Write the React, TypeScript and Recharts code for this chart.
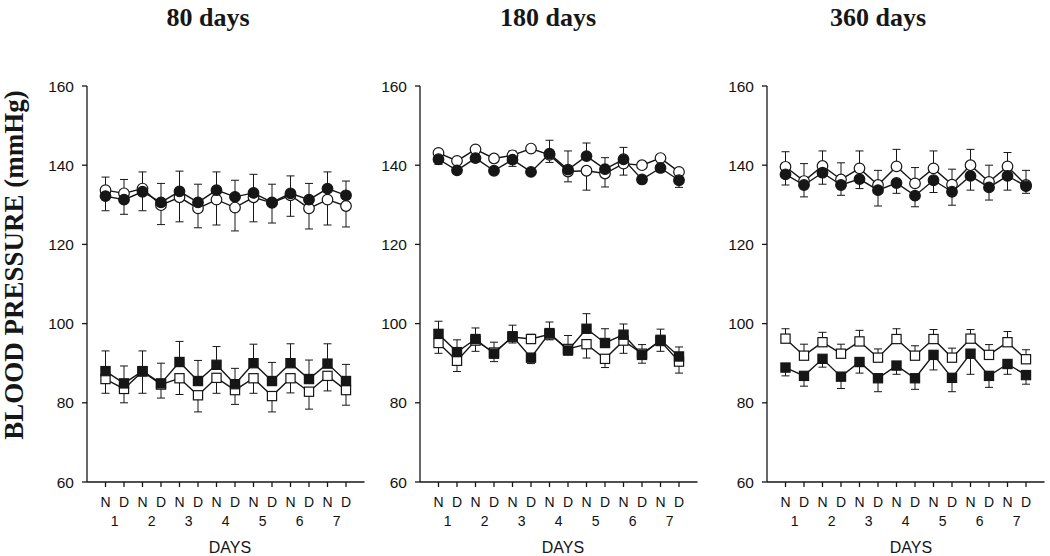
import { LineChart, Line, XAxis, YAxis, ErrorBar } from 'recharts';

const periods = ['80 days', '180 days', '360 days'];
const phases = ['N', 'D', 'N', 'D', 'N', 'D', 'N', 'D', 'N', 'D', 'N', 'D', 'N', 'D'];
const dayNumbers = ['1', '2', '3', '4', '5', '6', '7'];
const yTicks = [60, 80, 100, 120, 140, 160];

// 80 days
const d80ClosedCircle = [132.2, 131.3, 133.3, 130.6, 133.4, 130.6, 133.7, 132.0, 133.0, 130.6, 132.9, 131.3, 134.1, 132.4];
const d80ClosedCircleSd = [3.7, 3.7, 4.8, 4.8, 5.1, 4.6, 4.6, 4.2, 4.7, 4.6, 4.4, 4.1, 4.2, 3.6];
const d80OpenCircle = [133.7, 132.9, 134.1, 129.9, 131.9, 129.1, 131.3, 129.3, 131.9, 130.5, 132.4, 129.1, 131.3, 129.7];
const d80OpenCircleSd = [3.3, 3.5, 4.2, 4.9, 6.2, 4.9, 6.4, 5.9, 6.2, 5.1, 5.3, 5.2, 6.4, 5.3];
const d80ClosedSquare = [88.0, 84.9, 88.0, 84.9, 90.3, 85.5, 89.6, 84.7, 90.0, 85.5, 90.0, 86.0, 89.9, 85.5];
const d80ClosedSquareSd = [5.1, 4.4, 5.1, 5.1, 5.2, 5.2, 4.6, 4.0, 4.8, 4.7, 4.9, 4.8, 5.0, 4.2];
const d80OpenSquare = [86.0, 83.5, 87.9, 84.6, 86.2, 81.9, 86.3, 83.2, 86.2, 81.7, 86.2, 82.8, 86.8, 83.2];
const d80OpenSquareSd = [3.6, 3.5, 5.5, 3.4, 4.1, 4.2, 3.9, 3.6, 3.8, 4.0, 3.7, 4.4, 3.8, 3.8];

// 180 days
const d180ClosedCircle = [141.5, 138.7, 141.8, 138.6, 141.4, 138.3, 142.9, 138.9, 142.3, 139.0, 141.5, 136.4, 139.3, 136.2];
const d180ClosedCircleSd = [1.3, 0.8, 1.0, 0.8, 1.7, 0.8, 3.4, 4.7, 3.3, 2.9, 3.0, 0.8, 1.0, 1.8];
const d180OpenCircle = [143.1, 141.1, 144.0, 141.7, 142.5, 144.2, 142.6, 138.4, 138.6, 137.9, 140.4, 140.0, 141.8, 138.3];
const d180OpenCircleSd = [0.5, 0.6, 0.5, 0.5, 1.1, 0.6, 1.9, 2.6, 4.9, 3.4, 2.9, 0.8, 0.7, 0.5];
const d180ClosedSquare = [97.4, 92.8, 96.1, 92.4, 96.8, 91.4, 97.6, 93.2, 98.7, 95.1, 97.2, 92.1, 95.9, 91.7];
const d180ClosedSquareSd = [3.2, 3.1, 2.8, 2.0, 2.8, 1.5, 2.8, 1.1, 3.8, 3.6, 2.7, 2.1, 2.7, 2.4];
const d180OpenSquare = [95.1, 90.6, 95.7, 92.7, 96.6, 96.1, 97.3, 93.6, 94.8, 91.1, 95.7, 92.4, 95.6, 90.4];
const d180OpenSquareSd = [2.6, 2.7, 2.7, 2.6, 1.5, 1.2, 1.4, 3.4, 3.5, 2.2, 3.2, 2.3, 2.6, 2.9];

// 360 days
const d360ClosedCircle = [137.7, 135.0, 138.1, 135.0, 136.5, 133.7, 135.5, 132.3, 136.2, 133.3, 137.3, 134.4, 137.3, 134.7];
const d360ClosedCircleSd = [2.7, 3.0, 2.9, 2.6, 2.4, 4.0, 2.6, 2.8, 3.1, 3.4, 3.6, 3.2, 3.6, 1.8];
const d360OpenCircle = [139.6, 136.0, 139.8, 136.4, 139.2, 135.0, 139.7, 135.4, 139.2, 135.1, 140.0, 135.8, 139.7, 135.0];
const d360OpenCircleSd = [3.8, 4.4, 3.8, 4.2, 4.4, 3.7, 4.3, 4.0, 4.4, 3.9, 4.0, 4.2, 3.5, 3.7];
const d360ClosedSquare = [88.9, 86.8, 91.1, 86.6, 90.3, 86.2, 89.4, 86.2, 92.1, 86.3, 92.4, 86.8, 89.8, 87.0];
const d360ClosedSquareSd = [2.1, 2.6, 2.1, 3.0, 2.8, 3.4, 2.2, 2.8, 3.8, 3.5, 5.2, 2.9, 2.6, 2.3];
const d360OpenSquare = [96.2, 91.9, 95.3, 92.4, 95.5, 91.4, 96.1, 91.9, 96.1, 91.4, 96.2, 92.1, 95.3, 91.0];
const d360OpenSquareSd = [2.5, 2.9, 2.5, 2.4, 2.8, 2.2, 2.6, 2.5, 2.4, 2.4, 2.3, 2.6, 2.7, 2.4];

const INK = '#161616';
const SANS = '"Liberation Sans", Arial, sans-serif';
const SERIF = '"Liberation Serif", "Times New Roman", serif';

// error bar only drawn on the outer side of each pair
const errTuple = (sd: number, up: boolean) => (up ? [0, sd] : [sd, 0]);

type PanelData = {
  cc: number[]; ccSd: number[]; oc: number[]; ocSd: number[];
  cs: number[]; csSd: number[]; os: number[]; osSd: number[];
};

const buildRows = (p: PanelData) =>
  phases.map((ph, i) => ({
    x: i + 1,
    cc: p.cc[i],
    oc: p.oc[i],
    cs: p.cs[i],
    os: p.os[i],
    ccErr: errTuple(p.ccSd[i], p.cc[i] >= p.oc[i]),
    ocErr: errTuple(p.ocSd[i], p.oc[i] > p.cc[i]),
    csErr: errTuple(p.csSd[i], p.cs[i] >= p.os[i]),
    osErr: errTuple(p.osSd[i], p.os[i] > p.cs[i]),
  }));

const panels = [
  {
    title: periods[0], left: 37, titleX: 208, daysX: 230,
    data: { cc: d80ClosedCircle, ccSd: d80ClosedCircleSd, oc: d80OpenCircle, ocSd: d80OpenCircleSd,
      cs: d80ClosedSquare, csSd: d80ClosedSquareSd, os: d80OpenSquare, osSd: d80OpenSquareSd },
  },
  {
    title: periods[1], left: 369.5, titleX: 548, daysX: 563,
    data: { cc: d180ClosedCircle, ccSd: d180ClosedCircleSd, oc: d180OpenCircle, ocSd: d180OpenCircleSd,
      cs: d180ClosedSquare, csSd: d180ClosedSquareSd, os: d180OpenSquare, osSd: d180OpenSquareSd },
  },
  {
    title: periods[2], left: 717, titleX: 878, daysX: 911,
    data: { cc: d360ClosedCircle, ccSd: d360ClosedCircleSd, oc: d360OpenCircle, ocSd: d360OpenCircleSd,
      cs: d360ClosedSquare, csSd: d360ClosedSquareSd, os: d360OpenSquare, osSd: d360OpenSquareSd },
  },
];

const phaseTicks = phases.map((_, i) => i + 1);
const dayTicks = dayNumbers.map((_, i) => 2 * i + 1.5);

const circleDot = (fill: string) => (props: any) => (
  <circle key={`c${fill}${props.index}`} cx={props.cx} cy={props.cy} r={5.3} fill={fill} stroke={INK} strokeWidth={1.2} />
);

const squareDot = (fill: string) => (props: any) => (
  <rect key={`s${fill}${props.index}`} x={props.cx - 4.6} y={props.cy - 4.6} width={9.2} height={9.2} fill={fill} stroke={INK} strokeWidth={1.2} />
);

function Panel({ data }: { data: PanelData }) {
  const rows = buildRows(data);
  const series = [
    { key: 'oc', err: 'ocErr', dot: circleDot('#fff') },
    { key: 'cc', err: 'ccErr', dot: circleDot(INK) },
    { key: 'os', err: 'osErr', dot: squareDot('#fff') },
    { key: 'cs', err: 'csErr', dot: squareDot(INK) },
  ];
  return (
    <LineChart width={330} height={464} data={rows} margin={{ top: 16, right: 2.5, bottom: 0, left: 0 }}>
      <XAxis
        dataKey="x"
        type="number"
        domain={[0, 15]}
        ticks={phaseTicks}
        interval={0}
        tickFormatter={(v: number) => phases[v - 1]}
        tickSize={5}
        tickMargin={10}
        height={28}
        stroke={INK}
        strokeWidth={1.3}
        tick={{ fill: '#111', stroke: 'none', fontSize: 14, fontFamily: SANS }}
      />
      <XAxis
        xAxisId="day"
        dataKey="x"
        type="number"
        domain={[0, 15]}
        ticks={dayTicks}
        interval={0}
        tickFormatter={(v: number) => dayNumbers[Math.floor(v / 2)]}
        axisLine={false}
        tickLine={false}
        tickSize={0}
        tickMargin={6}
        height={24}
        tick={{ fill: '#111', stroke: 'none', fontSize: 14, fontFamily: SANS }}
      />
      <YAxis
        type="number"
        domain={[60, 160]}
        ticks={yTicks}
        interval={0}
        width={50}
        tickSize={5}
        tickMargin={8}
        stroke={INK}
        strokeWidth={1.3}
        tick={{ fill: '#111', stroke: 'none', fontSize: 15.5, fontFamily: SANS }}
      />
      {series.map((s) => (
        <Line
          key={s.key}
          dataKey={s.key}
          type="linear"
          stroke={INK}
          strokeWidth={1.4}
          dot={s.dot}
          activeDot={false}
          isAnimationActive={false}
        >
          <ErrorBar dataKey={s.err} direction="y" width={4} stroke={INK} strokeWidth={1} isAnimationActive={false} />
        </Line>
      ))}
    </LineChart>
  );
}

export default function App() {
  return (
    <div style={{ position: 'absolute', left: 0, top: 0, width: 1050, height: 556, background: '#fff', overflow: 'hidden' }}>
      <div
        style={{
          position: 'absolute', left: 14, top: 265, transform: 'translate(-50%, -50%) rotate(-90deg)',
          fontFamily: SERIF, fontWeight: 'bold', fontSize: 27, whiteSpace: 'nowrap', color: INK, lineHeight: 1,
        }}
      >
        BLOOD PRESSURE (mmHg)
      </div>
      {panels.map((p) => (
        <div key={p.title}>
          <div
            style={{
              position: 'absolute', left: p.titleX, top: 18, transform: 'translate(-50%, -50%)',
              fontFamily: SERIF, fontWeight: 'bold', fontSize: 26, whiteSpace: 'nowrap', color: INK, lineHeight: 1,
            }}
          >
            {p.title}
          </div>
          <div style={{ position: 'absolute', left: p.left, top: 70 }}>
            <Panel data={p.data} />
          </div>
          <div
            style={{
              position: 'absolute', left: p.daysX, top: 548, transform: 'translate(-50%, -50%)',
              fontFamily: SANS, fontSize: 16, color: INK, lineHeight: 1,
            }}
          >
            DAYS
          </div>
        </div>
      ))}
    </div>
  );
}
